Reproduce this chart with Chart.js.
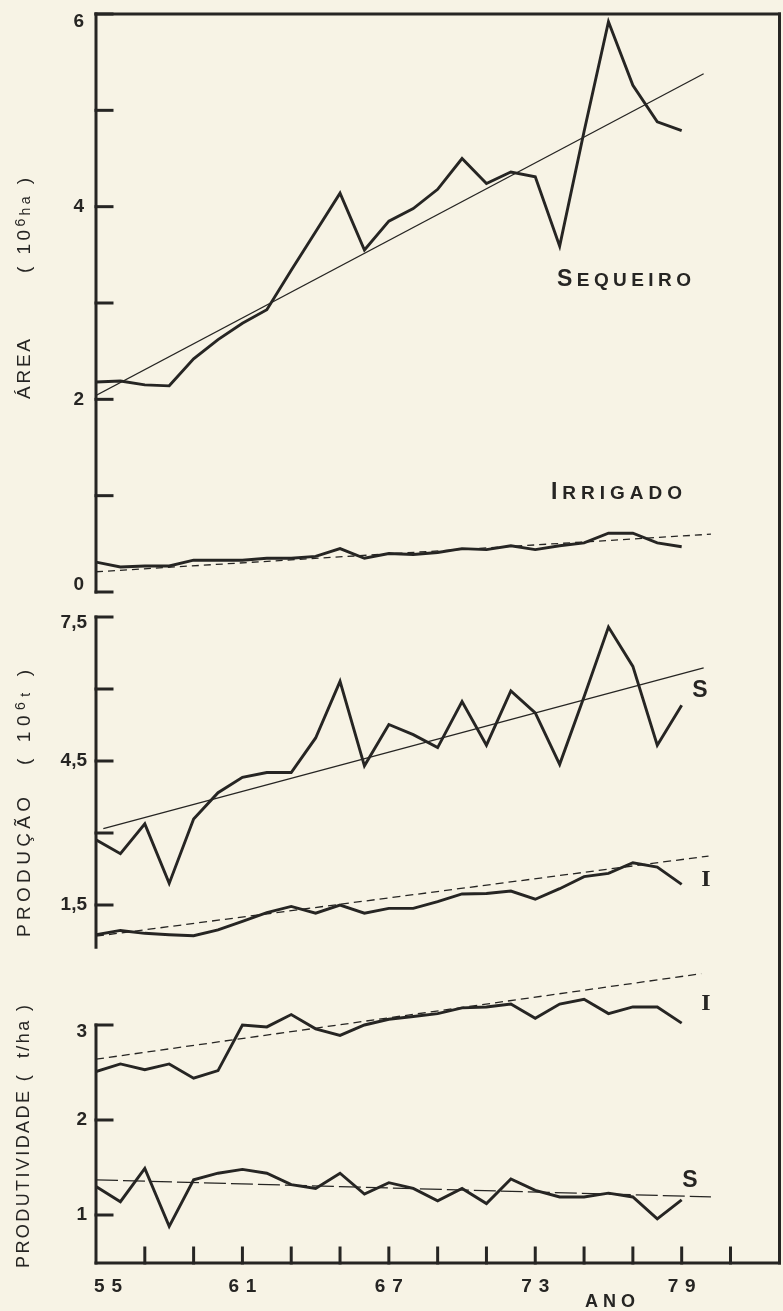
<!DOCTYPE html>
<html>
<head>
<meta charset="utf-8">
<script src="https://cdn.jsdelivr.net/npm/chart.js@4"></script>
<style>
  html, body { margin: 0; padding: 0; background: #f7f3e5; }
  canvas { display: block; }
</style>
</head>
<body>
<canvas id="chart" width="783" height="1311"></canvas>
<script>
// anos 1955-1979
const years = [55, 56, 57, 58, 59, 60, 61, 62, 63, 64, 65, 66, 67, 68, 69, 70, 71, 72, 73, 74, 75, 76, 77, 78, 79];

// area (10^6 ha)
const areaSequeiro = [2.18, 2.19, 2.15, 2.14, 2.42, 2.62, 2.79, 2.93, 3.34, 3.74, 4.14, 3.55, 3.85, 3.98, 4.18, 4.50, 4.24, 4.36, 4.31, 3.59, 4.78, 5.92, 5.26, 4.88, 4.79];
const areaIrrigado = [0.31, 0.26, 0.27, 0.27, 0.33, 0.33, 0.33, 0.35, 0.35, 0.37, 0.45, 0.35, 0.40, 0.39, 0.41, 0.45, 0.44, 0.48, 0.44, 0.48, 0.51, 0.61, 0.61, 0.51, 0.47];

// producao (10^6 t)
const prodSequeiro = [2.86, 2.57, 3.19, 1.95, 3.29, 3.84, 4.16, 4.26, 4.26, 4.98, 6.16, 4.40, 5.26, 5.05, 4.78, 5.74, 4.83, 5.96, 5.50, 4.43, 5.84, 7.29, 6.47, 4.83, 5.66];
const prodIrrigado = [0.88, 0.97, 0.91, 0.88, 0.86, 0.98, 1.16, 1.34, 1.47, 1.33, 1.50, 1.33, 1.43, 1.43, 1.57, 1.73, 1.74, 1.79, 1.62, 1.84, 2.09, 2.16, 2.38, 2.29, 1.93];

// produtividade (t/ha)
const rendIrrigado = [2.51, 2.59, 2.53, 2.59, 2.44, 2.52, 3.00, 2.98, 3.11, 2.96, 2.89, 3.00, 3.06, 3.09, 3.12, 3.18, 3.19, 3.22, 3.07, 3.22, 3.27, 3.12, 3.19, 3.19, 3.02];
const rendSequeiro = [1.30, 1.14, 1.49, 0.88, 1.37, 1.44, 1.48, 1.44, 1.32, 1.28, 1.44, 1.22, 1.34, 1.28, 1.15, 1.28, 1.12, 1.38, 1.26, 1.19, 1.19, 1.23, 1.19, 0.96, 1.16];

// linhas de tendencia: [ano, valor] nas pontas
const areaSeqTrend = [[55, 2.04], [79.9, 5.38]];
const areaIrrTrend = [[55, 0.21], [80.2, 0.60]];
const prodSeqTrend = [[55.3, 3.09], [79.9, 6.44]];
const prodIrrTrend = [[55, 0.85], [80.1, 2.52]];
const rendIrrTrend = [[55, 2.64], [79.8, 3.54]];
const rendSeqTrend = [[55, 1.37], [80.2, 1.19]];

// ticks
const areaTicks = [0, 1, 2, 3, 4, 5, 6];
const areaLabels = [0, 2, 4, 6];
const prodTicks = [1.5, 3, 4.5, 6, 7.5];
const prodLabels = [1.5, 4.5, 7.5];
const rendTicks = [1, 2, 3];
const rendLabels = [1, 2, 3];
const yearTicks = [57, 59, 61, 63, 65, 67, 69, 71, 73, 75, 77, 79, 81];
const yearLabels = [55, 61, 67, 73, 79];

const INK = '#262523';
const PAPER = '#f7f3e5';
const SANS = '"Liberation Sans", Arial, sans-serif';

const areaTop = 13, areaBottom = 1263;
function range(v1, p1, v2, p2) {
    const ppu = (p2 - p1) / (v1 - v2);
    return { min: v2 - (areaBottom - p2) / ppu, max: v1 + (p1 - areaTop) / ppu };
}
const rA = range(6, 14, 0, 592);
const rP = range(7.5, 617, 1.5, 905);
const rR = range(3, 1025, 1, 1215);

function series(vals, axis) {
    return {
        data: years.map((y, i) => ({ x: y, y: vals[i] })),
        yAxisID: axis,
        borderColor: INK,
        borderWidth: 2.9,
        pointRadius: 0,
        tension: 0,
        fill: false
    };
}
function trend(pts, axis, dash) {
    return {
        data: pts.map(p => ({ x: p[0], y: p[1] })),
        yAxisID: axis,
        borderColor: INK,
        borderWidth: 1.3,
        borderDash: dash,
        pointRadius: 0,
        tension: 0,
        fill: false
    };
}

// desenha trechos [texto, fonte, dy] com espacamento para caber em width
function runs(ctx, parts, x, y, width) {
    const chars = [];
    parts.forEach(p => {
        ctx.font = p[1];
        Array.from(p[0]).forEach(c => chars.push({ c, f: p[1], dy: p[2] || 0, w: ctx.measureText(c).width }));
    });
    const sum = chars.reduce((a, b) => a + b.w, 0);
    const gap = chars.length > 1 ? (width - sum) / (chars.length - 1) : 0;
    let cx = x;
    chars.forEach(ch => {
        ctx.font = ch.f;
        ctx.fillText(ch.c, cx, y + ch.dy);
        cx += ch.w + gap;
    });
}

function vertical(ctx, parts, x, yBottom, length) {
    ctx.save();
    ctx.translate(x, yBottom);
    ctx.rotate(-Math.PI / 2);
    ctx.textBaseline = 'middle';
    runs(ctx, parts, 0, 0, length);
    ctx.restore();
}

const fmt = v => String(v).replace('.', ',');

const frame = {
    id: 'frame',
    beforeDraw(chart) {
        const ctx = chart.ctx;
        ctx.save();
        ctx.fillStyle = PAPER;
        ctx.fillRect(0, 0, chart.width, chart.height);
        ctx.restore();
    },
    afterDatasetsDraw(chart) {
        const ctx = chart.ctx, a = chart.chartArea, s = chart.scales;
        const xL = s.x.getPixelForValue(55), xR = a.right - 1.5;
        const line = (x1, y1, x2, y2) => { ctx.beginPath(); ctx.moveTo(x1, y1); ctx.lineTo(x2, y2); ctx.stroke(); };
        ctx.save();
        ctx.strokeStyle = INK;
        ctx.fillStyle = INK;
        ctx.lineWidth = 3;
        ctx.lineCap = 'square';

        // caixa e eixos
        const yTop = s.yA.getPixelForValue(6);
        line(xL, yTop, xR, yTop);
        line(xR, yTop, xR, a.bottom);
        line(xL, a.bottom, xR, a.bottom);
        line(xL, yTop, xL, s.yA.getPixelForValue(0));
        line(xL, s.yP.getPixelForValue(7.5), xL, s.yP.getPixelForValue(0.62));
        line(xL, s.yR.getPixelForValue(3), xL, a.bottom);

        const tick = 16;
        areaTicks.forEach(v => { const y = s.yA.getPixelForValue(v); line(xL, y, xL + tick, y); });
        prodTicks.forEach(v => { const y = s.yP.getPixelForValue(v); line(xL, y, xL + tick, y); });
        rendTicks.forEach(v => { const y = s.yR.getPixelForValue(v); line(xL, y, xL + tick, y); });
        yearTicks.forEach(v => { const x = s.x.getPixelForValue(v); line(x, a.bottom, x, a.bottom - 15); });

        // rotulos dos eixos y
        ctx.font = 'bold 19px ' + SANS;
        ctx.textAlign = 'right';
        ctx.textBaseline = 'middle';
        areaLabels.forEach(v => {
            let y = s.yA.getPixelForValue(v);
            if (v === 6) y += 8;
            if (v === 0) y -= 7;
            ctx.fillText(fmt(v), 84, y);
        });
        prodLabels.forEach(v => {
            let y = s.yP.getPixelForValue(v);
            if (v === 7.5) y += 6;
            ctx.fillText(fmt(v), 87, y);
        });
        rendLabels.forEach(v => {
            let y = s.yR.getPixelForValue(v);
            if (v === 3) y += 7;
            ctx.fillText(fmt(v), 87, y);
        });

        // rotulos dos anos
        ctx.textAlign = 'left';
        const fy = 'bold 19px ' + SANS;
        yearLabels.forEach(v => {
            let x = s.x.getPixelForValue(v);
            if (v === 55) x += 12;
            runs(ctx, [[String(v), fy]], x - 14, 1287, 28);
        });
        runs(ctx, [['ANO', 'bold 18px ' + SANS]], 585, 1302, 50);

        // titulos verticais
        const ft = '19px ' + SANS, fs = '14px ' + SANS;
        vertical(ctx, [['ÁREA', ft]], 25, 399, 60);
        vertical(ctx, [['( 10', ft], ['6', fs, -4], ['ha', fs, 1], [' )', ft]], 25, 273, 95);
        vertical(ctx, [['PRODUÇÃO', ft]], 25, 937, 140);
        vertical(ctx, [['( 10', ft], ['6', fs, -4], ['t', fs, 1], [' )', ft]], 25, 765, 95);
        vertical(ctx, [['PRODUTIVIDADE (  t/ha )', '18px ' + SANS]], 24, 1268, 263);

        // nomes das series
        ctx.textBaseline = 'alphabetic';
        runs(ctx, [['S', 'bold 23px ' + SANS], ['EQUEIRO', 'bold 19px ' + SANS]], 557, 286, 134);
        runs(ctx, [['I', 'bold 23px ' + SANS], ['RRIGADO', 'bold 19px ' + SANS]], 551, 499, 131);
        ctx.font = 'bold 23px ' + SANS;
        ctx.textAlign = 'center';
        ctx.textBaseline = 'middle';
        ctx.fillText('S', 700, 691);
        ctx.fillText('S', 690, 1181);
        ctx.font = 'bold 24px "Liberation Serif", serif';
        ctx.fillText('I', 706, 880);
        ctx.fillText('I', 706, 1004);
        ctx.restore();
    }
};

new Chart(document.getElementById('chart'), {
    type: 'line',
    data: {
        datasets: [
            series(areaSequeiro, 'yA'),
            trend(areaSeqTrend, 'yA', []),
            series(areaIrrigado, 'yA'),
            trend(areaIrrTrend, 'yA', [7, 5]),
            series(prodSequeiro, 'yP'),
            trend(prodSeqTrend, 'yP', []),
            series(prodIrrigado, 'yP'),
            trend(prodIrrTrend, 'yP', [8, 5]),
            series(rendIrrigado, 'yR'),
            trend(rendIrrTrend, 'yR', [8, 5]),
            series(rendSequeiro, 'yR'),
            trend(rendSeqTrend, 'yR', [22, 5])
        ]
    },
    options: {
        responsive: false,
        animation: false,
        layout: { padding: { left: 96, right: 2, top: 13, bottom: 48 } },
        plugins: { legend: { display: false }, tooltip: { enabled: false } },
        scales: {
            x: { type: 'linear', min: 55, max: 83.07, display: false },
            yA: { type: 'linear', min: rA.min, max: rA.max, display: false },
            yP: { type: 'linear', min: rP.min, max: rP.max, display: false },
            yR: { type: 'linear', min: rR.min, max: rR.max, display: false }
        }
    },
    plugins: [frame]
});
</script>
</body>
</html>
